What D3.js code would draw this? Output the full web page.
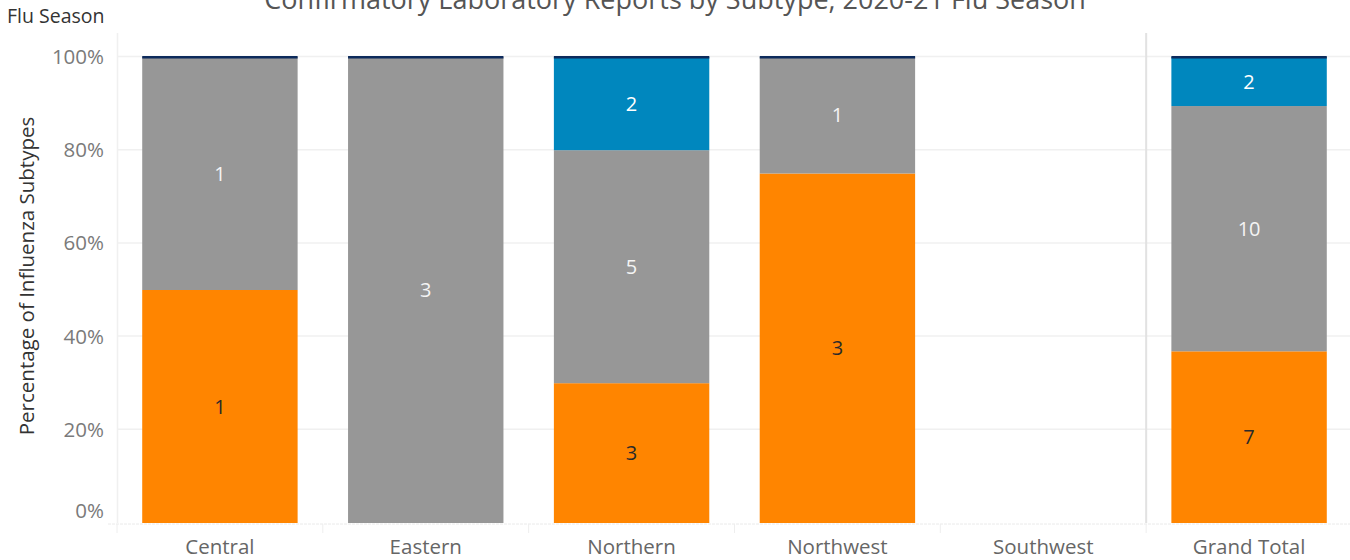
<!DOCTYPE html>
<html lang="en">
<head>
  <meta charset="UTF-8">
  <title>Confirmatory Laboratory Reports by Subtype</title>
  <script src="https://d3js.org/d3.v7.min.js"></script>
  <style>
    html, body {
      margin: 0;
      padding: 0;
      background: #fff;
      overflow: hidden;
    }
    text {
      font-family: "Open Sans", "Noto Sans", sans-serif;
    }
  </style>
</head>
<body>
  <svg id="chart" width="1350" height="560"></svg>
  <script>
    // data
    const regions = ['Central', 'Eastern', 'Northern', 'Northwest', 'Southwest', 'Grand Total'];
    const subtypes = ['orange', 'gray', 'blue'];
    const orangeCounts = [1, 0, 3, 3, 0, 7];
    const grayCounts = [1, 3, 5, 1, 0, 10];
    const blueCounts = [0, 0, 2, 0, 0, 2];
    const yTicks = [0, 0.2, 0.4, 0.6, 0.8, 1];
    const colors = {orange: '#ff8500', gray: '#979797', blue: '#0087be'};
    const labelColors = {orange: '#2a2a2a', gray: '#f4f4f4', blue: '#ffffff'};
    const capColor = '#0d2b5c';

    const width = 1350;
    const svg = d3.select('#chart');

    const rows = regions.map((r, i) => {
      const total = orangeCounts[i] + grayCounts[i] + blueCounts[i];
      return {
        region: r,
        total,
        orange: total ? orangeCounts[i] / total : 0,
        gray: total ? grayCounts[i] / total : 0,
        blue: total ? blueCounts[i] / total : 0,
        counts: {orange: orangeCounts[i], gray: grayCounts[i], blue: blueCounts[i]},
      };
    });

    const x = d3.scaleBand()
      .domain(regions)
      .range([117, 1352])
      .paddingInner(0.245)
      .paddingOuter(0.1225);

    const y = d3.scaleLinear()
      .domain([0, 1])
      .range([523, 57]);

    const stack = d3.stack().keys(subtypes);
    const series = stack(rows);

    // title + header
    svg.append('text')
      .attr('x', 675)
      .attr('y', 9)
      .attr('text-anchor', 'middle')
      .attr('font-size', 27)
      .attr('fill', '#555')
      .text('Confirmatory Laboratory Reports by Subtype, 2020-21 Flu Season');

    svg.append('text')
      .attr('x', 7)
      .attr('y', 23)
      .attr('font-size', 19.5)
      .attr('fill', '#333')
      .text('Flu Season');

    // grid
    const grid = svg.append('g');
    grid.selectAll('line.h')
      .data(yTicks.filter(d => d > 0))
      .join('line')
      .attr('x1', 117)
      .attr('x2', width)
      .attr('y1', d => y(d) - 0.5)
      .attr('y2', d => y(d) - 0.5)
      .attr('stroke', '#f0f0f0')
      .attr('stroke-width', 1.5);

    grid.append('line')
      .attr('x1', 117.5).attr('x2', 117.5)
      .attr('y1', 33).attr('y2', 523)
      .attr('stroke', '#f0f0f0')
      .attr('stroke-width', 1.5);

    // separator before the grand total pane
    const sepX = x('Grand Total') - x.step() * x.paddingInner() / 2;
    grid.append('line')
      .attr('x1', sepX).attr('x2', sepX)
      .attr('y1', 33).attr('y2', 523)
      .attr('stroke', '#e2e2e2')
      .attr('stroke-width', 2);

    // baseline and separators
    grid.append('line')
      .attr('x1', 108).attr('x2', width)
      .attr('y1', 524).attr('y2', 524)
      .attr('stroke', '#eaeaea')
      .attr('stroke-dasharray', '3,1');

    grid.selectAll('line.sep')
      .data(regions)
      .join('line')
      .attr('x1', d => x(d) - x.step() * x.paddingInner() / 2)
      .attr('x2', d => x(d) - x.step() * x.paddingInner() / 2)
      .attr('y1', 524)
      .attr('y2', 533)
      .attr('stroke', '#eeeeee');

    // y axis
    const yAxis = d3.axisLeft(y)
      .tickValues(yTicks)
      .tickFormat(d3.format('.0%'))
      .tickSize(0)
      .tickPadding(0);

    svg.append('g')
      .attr('transform', 'translate(104,0)')
      .call(yAxis)
      .call(g => g.select('.domain').remove())
      .call(g => g.selectAll('text')
        .attr('font-size', 20.5)
        .attr('fill', '#7a7a7a')
        .attr('font-family', '"Open Sans", "Noto Sans", sans-serif'))
      .call(g => g.selectAll('.tick').filter(d => d === 0).select('text').attr('dy', '-0.25em'));

    svg.append('text')
      .attr('transform', 'translate(27,276) rotate(-90)')
      .attr('text-anchor', 'middle')
      .attr('dy', '0.35em')
      .attr('font-size', 20.5)
      .attr('fill', '#333')
      .text('Percentage of Influenza Subtypes');

    // x axis
    const xAxis = d3.axisBottom(x).tickSize(0).tickPadding(0);
    svg.append('g')
      .attr('transform', 'translate(0,535)')
      .call(xAxis)
      .call(g => g.select('.domain').remove())
      .call(g => g.selectAll('text')
        .attr('font-size', 20.5)
        .attr('fill', '#666')
        .attr('dy', '0.95em')
        .attr('font-family', '"Open Sans", "Noto Sans", sans-serif'));

    // bars
    const layers = svg.append('g')
      .selectAll('g')
      .data(series)
      .join('g')
      .attr('fill', d => colors[d.key]);

    layers.selectAll('rect')
      .data(d => d.map(v => ({key: d.key, v})))
      .join('rect')
      .attr('x', d => x(d.v.data.region))
      .attr('width', x.bandwidth())
      .attr('y', d => y(d.v[1]))
      .attr('height', d => y(d.v[0]) - y(d.v[1]));

    // thin dark cap on top of each non-empty bar
    svg.append('g')
      .selectAll('rect')
      .data(rows.filter(r => r.total > 0))
      .join('rect')
      .attr('x', d => x(d.region))
      .attr('width', x.bandwidth())
      .attr('y', y(1) - 1)
      .attr('height', 2.5)
      .attr('fill', capColor);

    // count labels
    const labels = [];
    series.forEach(s => {
      s.forEach(v => {
        const c = v.data.counts[s.key];
        if (c > 0) labels.push({key: s.key, v, c});
      });
    });

    svg.append('g')
      .selectAll('text')
      .data(labels)
      .join('text')
      .attr('x', d => x(d.v.data.region) + x.bandwidth() / 2)
      .attr('y', d => (y(d.v[0]) + y(d.v[1])) / 2)
      .attr('dy', '0.35em')
      .attr('text-anchor', 'middle')
      .attr('font-size', 20)
      .attr('font-weight', d => d.v.data.region === 'Grand Total' ? 500 : 400)
      .attr('fill', d => labelColors[d.key])
      .text(d => d.c);
  </script>
</body>
</html>
